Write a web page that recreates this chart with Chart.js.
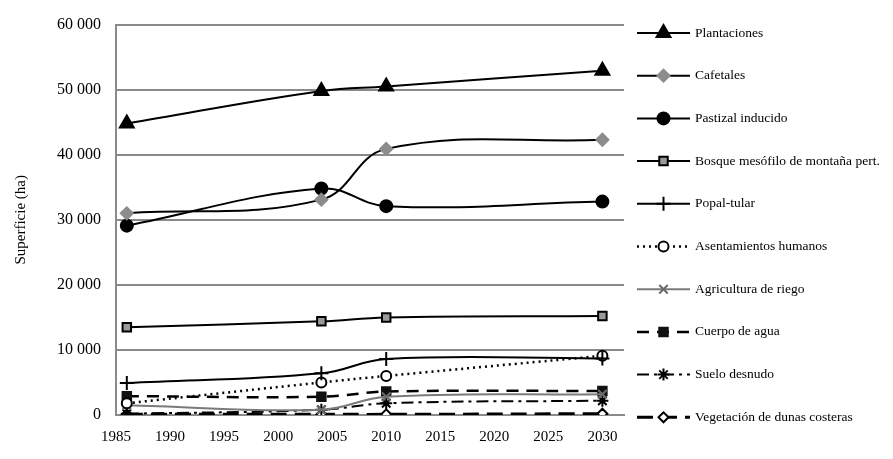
<!DOCTYPE html>
<html>
<head>
<meta charset="utf-8">
<script src="https://cdn.jsdelivr.net/npm/chart.js@4"></script>
<style>
  html, body { margin: 0; padding: 0; background: #fff; }
  #wrap { width: 893px; height: 459px; }
</style>
</head>
<body>
<div id="wrap"><canvas id="grafica" width="893" height="459"></canvas></div>
<script>
// años de los datos
const anios = [1986, 2004, 2010, 2030];

// superficie (ha) por tipo de uso
const plantaciones = [44800, 49800, 50500, 52900];
const cafetales = [31000, 33100, 40900, 42300];
const pastizal = [29100, 34800, 32100, 32800];
const bosqueMesofilo = [13500, 14400, 15000, 15200];
const popalTular = [4900, 6400, 8600, 8700];
const asentamientos = [1800, 5000, 6000, 9100];
const agriculturaRiego = [1500, 800, 2800, 3200];
const cuerpoAgua = [2900, 2800, 3600, 3700];
const sueloDesnudo = [200, 800, 1800, 2200];
const dunasCosteras = [100, 100, 100, 200];

const ticksY = [0, 10000, 20000, 30000, 40000, 50000, 60000];
const ticksX = [1985, 1990, 1995, 2000, 2005, 2010, 2015, 2020, 2025, 2030];

const fuente = '"Liberation Serif", "DejaVu Serif", serif';

function puntos(valores) {
    return valores.map((v, i) => ({ x: anios[i], y: v }));
}

// estilo de cada serie
const series = [
    { label: 'Plantaciones', data: plantaciones, color: '#000', dash: [], ancho: 2, punto: 'triangle', radio: 8, relleno: '#000', borde: '#000' },
    { label: 'Cafetales', data: cafetales, color: '#000', dash: [], ancho: 2, punto: 'rectRot', radio: 6, relleno: '#8c8c8c', borde: '#8c8c8c' },
    { label: 'Pastizal inducido', data: pastizal, color: '#000', dash: [], ancho: 2, punto: 'circle', radio: 6, relleno: '#000', borde: '#000' },
    { label: 'Bosque mesófilo de montaña pert.', data: bosqueMesofilo, color: '#000', dash: [], ancho: 2, punto: 'rect', radio: 6, relleno: '#9a9a9a', borde: '#000' },
    { label: 'Popal-tular', data: popalTular, color: '#000', dash: [], ancho: 2, punto: 'cross', radio: 7, relleno: '#000', borde: '#000' },
    { label: 'Asentamientos humanos', data: asentamientos, color: '#000', dash: [2, 4], ancho: 2.5, punto: 'circle', radio: 5, relleno: '#fff', borde: '#000' },
    { label: 'Agricultura de riego', data: agriculturaRiego, color: '#7a7a7a', dash: [], ancho: 2, punto: 'crossRot', radio: 6, relleno: '#6a6a6a', borde: '#6a6a6a' },
    { label: 'Cuerpo de agua', data: cuerpoAgua, color: '#000', dash: [12, 8], ancho: 2.5, punto: 'rect', radio: 6, relleno: '#111', borde: '#111' },
    { label: 'Suelo desnudo', data: sueloDesnudo, color: '#000', dash: [12, 5, 3, 5], ancho: 2, punto: 'star', radio: 6, relleno: '#000', borde: '#000' },
    { label: 'Vegetación de dunas costeras', data: dunasCosteras, color: '#000', dash: [16, 8], ancho: 3, punto: 'rectRot', radio: 5, relleno: '#fff', borde: '#000' }
];

function miles(v) {
    return String(v).replace(/\B(?=(\d{3})+(?!\d))/g, ' ');
}

// leyenda dibujada a mano a la derecha (línea + marcador)
const leyendaDerecha = {
    id: 'leyendaDerecha',
    afterDraw(chart) {
        const ctx = chart.ctx;
        const x0 = 637, x1 = 690, y0 = 33, paso = 42.7;
        ctx.save();
        series.forEach((s, i) => {
            const y = y0 + i * paso;
            ctx.strokeStyle = s.color;
            ctx.lineWidth = s.ancho;
            ctx.setLineDash(s.dash);
            ctx.beginPath();
            ctx.moveTo(x0, y);
            ctx.lineTo(x1, y);
            ctx.stroke();
            ctx.setLineDash([]);
            ctx.fillStyle = s.relleno;
            ctx.strokeStyle = s.borde;
            ctx.lineWidth = 2;
            Chart.helpers.drawPoint(ctx, { pointStyle: s.punto, radius: s.radio, rotation: 0, borderWidth: 2 }, (x0 + x1) / 2, y);
            ctx.fillStyle = '#000';
            ctx.font = '13.5px ' + fuente;
            ctx.textBaseline = 'middle';
            ctx.textAlign = 'left';
            ctx.fillText(s.label, 695, y);
        });
        ctx.restore();
    }
};

const ctx = document.getElementById('grafica').getContext('2d');
new Chart(ctx, {
    type: 'line',
    data: {
        datasets: series.map(s => ({
            label: s.label,
            data: puntos(s.data),
            borderColor: s.color,
            borderWidth: s.ancho,
            borderDash: s.dash,
            pointStyle: s.punto,
            pointRadius: s.radio,
            pointBackgroundColor: s.relleno,
            pointBorderColor: s.borde,
            pointBorderWidth: 2,
            tension: 0.4,
            fill: false
        }))
    },
    options: {
        responsive: false,
        animation: false,
        layout: { padding: { left: 8, right: 269, top: 16, bottom: 0 } },
        scales: {
            x: {
                type: 'linear',
                min: 1985,
                max: 2032,
                grid: { display: false, drawTicks: false },
                border: { color: '#8a8a8a', width: 2 },
                ticks: {
                    stepSize: 5,
                    includeBounds: false,
                    color: '#000',
                    font: { family: fuente, size: 15 },
                    padding: 13,
                    maxRotation: 0,
                    callback: v => String(v)
                },
                afterBuildTicks: axis => { axis.ticks = ticksX.map(v => ({ value: v })); }
            },
            y: {
                min: 0,
                max: 60000,
                grid: { color: '#8a8a8a', lineWidth: 2, drawTicks: false },
                border: { color: '#8a8a8a', width: 2 },
                ticks: {
                    color: '#000',
                    font: { family: fuente, size: 16 },
                    padding: 15,
                    callback: v => miles(v)
                },
                afterBuildTicks: axis => { axis.ticks = ticksY.map(v => ({ value: v })); },
                title: {
                    display: true,
                    text: 'Superficie (ha)',
                    color: '#000',
                    font: { family: fuente, size: 15 },
                    padding: { bottom: 12 }
                }
            }
        },
        plugins: {
            legend: { display: false },
            tooltip: { enabled: false }
        }
    },
    plugins: [leyendaDerecha]
});
</script>
</body>
</html>
